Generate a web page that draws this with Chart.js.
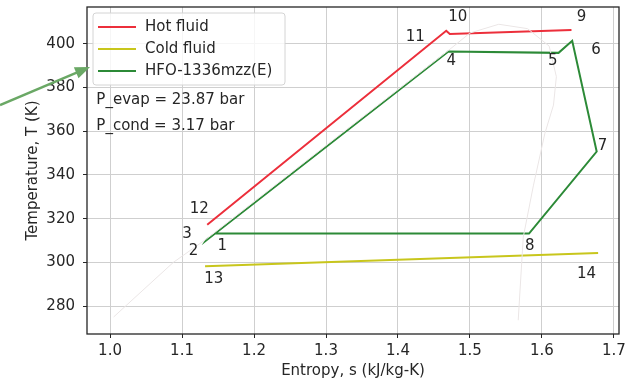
<!DOCTYPE html>
<html>
<head>
<meta charset="utf-8">
<script src="https://cdn.jsdelivr.net/npm/chart.js@4.4.0/dist/chart.umd.min.js"></script>
<style>
  html, body { margin: 0; padding: 0; background: #fff; }
  #wrap { width: 625px; height: 381px; }
</style>
</head>
<body>
<div id="wrap"><canvas id="c" width="625" height="381"></canvas></div>
<script>
// entropy (kJ/kg-K) and temperature (K)
const sHot = [1.641, 1.472, 1.467, 1.135];
const tHot = [406.4, 404.5, 406.0, 317.2];

const sCold = [1.132, 1.678];
const tCold = [298.2, 304.3];

const sHfo = [1.146, 1.134, 1.133, 1.470, 1.623, 1.642, 1.676, 1.582, 1.146];
const tHfo = [313.2, 310.4, 309.9, 396.5, 395.9, 401.4, 350.7, 313.2, 313.2];

// faint saturation dome behind the cycle
const sDome = [1.005, 1.088, 1.133, 1.30, 1.47, 1.50, 1.54, 1.58, 1.61, 1.62, 1.616, 1.604, 1.588, 1.574, 1.567];
const tDome = [275.0, 300.0, 310.5, 353.5, 397.0, 405.0, 409.0, 407.0, 399.0, 385.0, 372.0, 359.0, 335.0, 311.5, 273.5];

// state point numbers and where their text sits
const ptText = ['1', '2', '3', '4', '5', '6', '7', '8', '9', '10', '11', '12', '13', '14'];
const ptS = [1.156, 1.116, 1.107, 1.474, 1.615, 1.675, 1.684, 1.583, 1.655, 1.483, 1.424, 1.124, 1.144, 1.662];
const ptT = [307.6, 305.0, 313.0, 391.9, 391.9, 397.3, 353.0, 307.6, 412.4, 412.4, 403.2, 324.4, 292.5, 294.7];

const noteText = ['P_evap = 23.87 bar', 'P_cond = 3.17 bar'];
const noteS = [0.981, 0.981];
const noteT = [374.3, 362.4];

const xTicks = [1.0, 1.1, 1.2, 1.3, 1.4, 1.5, 1.6, 1.7];
const yTicks = [280, 300, 320, 340, 360, 380, 400];

const FONT = 'DejaVu Sans';
const TXT = '#262626';

function pts(xs, ys) {
  return xs.map((x, i) => ({ x: x, y: ys[i] }));
}

const frameAndText = {
  id: 'frameAndText',
  afterDatasetsDraw(chart) {
    const ctx = chart.ctx;
    const a = chart.chartArea;
    const xs = chart.scales.x, ys = chart.scales.y;
    ctx.save();
    // axes frame
    ctx.strokeStyle = '#262626';
    ctx.lineWidth = 1.3;
    ctx.strokeRect(a.left, a.top, a.right - a.left, a.bottom - a.top);

    // point numbers
    ctx.fillStyle = TXT;
    ctx.font = '15px ' + FONT;
    ctx.textAlign = 'center';
    ctx.textBaseline = 'middle';
    ptText.forEach((t, i) => {
      ctx.fillText(t, xs.getPixelForValue(ptS[i]), ys.getPixelForValue(ptT[i]));
    });

    // pressure notes
    ctx.textAlign = 'left';
    noteText.forEach((t, i) => {
      ctx.fillText(t, xs.getPixelForValue(noteS[i]), ys.getPixelForValue(noteT[i]));
    });

    // legend box, upper left
    const lx = a.left + 6, ly = a.top + 6, lw = 192, lh = 72;
    ctx.beginPath();
    ctx.roundRect(lx, ly, lw, lh, 3);
    ctx.fillStyle = 'rgba(255,255,255,0.8)';
    ctx.fill();
    ctx.strokeStyle = '#d4d4d4';
    ctx.lineWidth = 1;
    ctx.stroke();
    const items = chart.data.datasets.filter(d => d.label);
    items.forEach((d, i) => {
      const y = ly + 14 + i * 22;
      ctx.beginPath();
      ctx.moveTo(lx + 5, y);
      ctx.lineTo(lx + 43, y);
      ctx.strokeStyle = d.borderColor;
      ctx.lineWidth = 2;
      ctx.stroke();
      ctx.fillStyle = TXT;
      ctx.fillText(d.label, lx + 52, y);
    });

    // green arrow pointing at the legend, outside the axes
    const tipX = a.left + 3, tipY = a.top + 60;
    const tailX = 0, tailY = a.top + 98;
    const ang = Math.atan2(tipY - tailY, tipX - tailX);
    ctx.strokeStyle = '#6aa865';
    ctx.fillStyle = '#6aa865';
    ctx.lineWidth = 2.5;
    ctx.beginPath();
    ctx.moveTo(tailX, tailY);
    ctx.lineTo(tipX - 10 * Math.cos(ang), tipY - 10 * Math.sin(ang));
    ctx.stroke();
    ctx.beginPath();
    ctx.moveTo(tipX, tipY);
    ctx.lineTo(tipX - 15 * Math.cos(ang) + 6 * Math.sin(ang), tipY - 15 * Math.sin(ang) - 6 * Math.cos(ang));
    ctx.lineTo(tipX - 15 * Math.cos(ang) - 6 * Math.sin(ang), tipY - 15 * Math.sin(ang) + 6 * Math.cos(ang));
    ctx.closePath();
    ctx.fill();
    ctx.restore();
  }
};

const lineDs = (label, data, color, width) => ({
  label: label,
  data: data,
  borderColor: color,
  backgroundColor: color,
  borderWidth: width,
  showLine: true,
  pointRadius: 0,
  tension: 0,
  fill: false
});

new Chart(document.getElementById('c'), {
  type: 'scatter',
  data: {
    datasets: [
      lineDs('', pts(sDome, tDome), '#ebe6e6', 1),
      lineDs('Hot fluid', pts(sHot, tHot), '#ec2f3b', 2),
      lineDs('Cold fluid', pts(sCold, tCold), '#c8c61c', 2),
      lineDs('HFO-1336mzz(E)', pts(sHfo, tHfo), '#2c8a37', 2)
    ]
  },
  options: {
    responsive: false,
    animation: false,
    layout: { padding: { top: 7, right: 6, left: 0, bottom: 0 } },
    plugins: { legend: { display: false }, tooltip: { enabled: false } },
    scales: {
      x: {
        type: 'linear',
        min: 0.968,
        max: 1.707,
        afterBuildTicks: s => { s.ticks = xTicks.map(v => ({ value: v })); },
        afterFit: s => { s.height = 47; s.paddingLeft = 0; s.paddingRight = 0; },
        ticks: {
          callback: v => v.toFixed(1),
          font: { family: FONT, size: 15 },
          color: TXT,
          padding: 4,
          maxRotation: 0
        },
        grid: { color: '#cfcfcf', lineWidth: 1, tickLength: 4, tickColor: '#262626' },
        border: { display: false },
        title: {
          display: true,
          text: 'Entropy, s (kJ/kg-K)',
          font: { family: FONT, size: 15 },
          color: TXT,
          padding: { top: 0, bottom: 1 }
        }
      },
      y: {
        type: 'linear',
        min: 267.2,
        max: 416.9,
        afterBuildTicks: s => { s.ticks = yTicks.map(v => ({ value: v })); },
        afterFit: s => { s.width = 87; s.paddingTop = 0; s.paddingBottom = 0; },
        ticks: {
          font: { family: FONT, size: 15 },
          color: TXT,
          padding: 8
        },
        grid: { color: '#cfcfcf', lineWidth: 1, tickLength: 4, tickColor: '#262626' },
        border: { display: false },
        title: {
          display: true,
          text: 'Temperature, T (K)',
          font: { family: FONT, size: 15 },
          color: TXT,
          padding: { top: 24, bottom: 0 }
        }
      }
    }
  },
  plugins: [frameAndText]
});
</script>
</body>
</html>
